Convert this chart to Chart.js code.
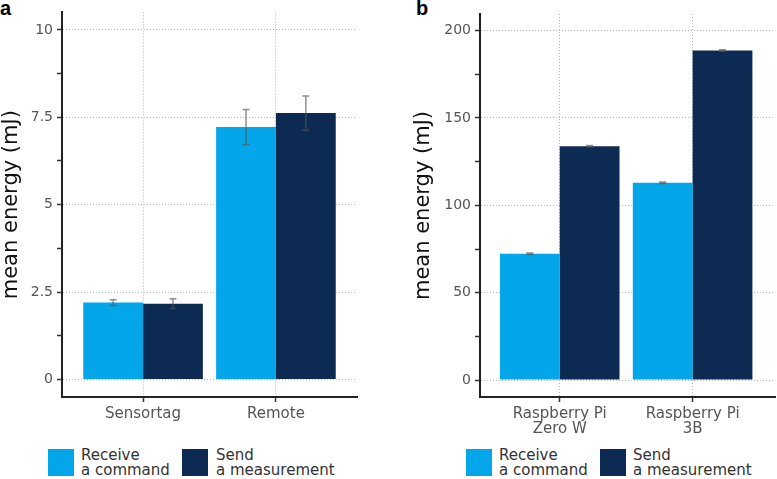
<!DOCTYPE html>
<html><head><meta charset="utf-8">
<script src="https://cdn.jsdelivr.net/npm/chart.js@4/dist/chart.umd.min.js"></script>
<style>
html,body{margin:0;padding:0;background:#fff;}
body{width:777px;height:479px;position:relative;overflow:hidden;font-family:'DejaVu Sans',sans-serif;}
canvas{position:absolute;top:0;}
.plabel{position:absolute;top:-2px;font:bold 20px/20px 'Liberation Sans',Arial,sans-serif;color:#000;}
.box{position:absolute;width:26px;height:27px;top:449px;}
.txt{position:absolute;top:448px;font-size:15px;line-height:14.5px;color:#333;white-space:nowrap;}
</style></head>
<body>
<div class="plabel" style="left:0px">a</div>
<div class="plabel" style="left:416px">b</div>
<canvas id="ca" width="370" height="445" style="left:0px"></canvas>
<canvas id="cb" width="365" height="445" style="left:412px"></canvas>

<div class="box" style="left:48px;background:#02a6e9"></div>
<div class="txt" style="left:81px">Receive<br>a command</div>
<div class="box" style="left:182px;background:#0d2a53"></div>
<div class="txt" style="left:216px">Send<br>a measurement</div>

<div class="box" style="left:466px;background:#02a6e9"></div>
<div class="txt" style="left:499px">Receive<br>a command</div>
<div class="box" style="left:600px;background:#0d2a53"></div>
<div class="txt" style="left:633px">Send<br>a measurement</div>

<script>
// ---- Panel a data ----
const categoriesA = ['Sensortag', 'Remote'];
const receiveA = [2.20, 7.22];
const sendA = [2.17, 7.62];
const receiveErrA = [0.08, 0.50];
const sendErrA = [0.14, 0.49];
const majorTicksA = [0, 2.5, 5, 7.5, 10];
const minorTicksA = [1.25, 3.75, 6.25, 8.75];
const tickLabelsA = ['0', '2.5', '5', '7.5', '10'];

// ---- Panel b data ----
const categoriesB = [['Raspberry Pi', 'Zero W'], ['Raspberry Pi', '3B']];
const receiveB = [72.3, 112.9];
const sendB = [133.8, 188.6];
const receiveErrB = [0.4, 0.4];
const sendErrB = [0.4, 0.4];
const majorTicksB = [0, 50, 100, 150, 200];
const minorTicksB = [25, 75, 125, 175];
const tickLabelsB = ['0', '50', '100', '150', '200'];

const seriesNames = ['Receive a command', 'Send a measurement'];
const colReceive = '#02a6e9';
const colSend = '#0d2a53';

const errorBars = {
  id: 'errorBars',
  afterDatasetsDraw(chart) {
    const ctx = chart.ctx, ys = chart.scales.y;
    chart.data.datasets.forEach((ds, di) => {
      const meta = chart.getDatasetMeta(di);
      meta.data.forEach((bar, i) => {
        const v = ds.data[i].y, e = ds.errors[i];
        const t = ys.getPixelForValue(v + e), b = ys.getPixelForValue(v - e);
        ctx.save();
        ctx.strokeStyle = 'rgba(85,85,85,0.65)';
        ctx.lineWidth = 1.5;
        ctx.beginPath();
        ctx.moveTo(bar.x, t); ctx.lineTo(bar.x, b);
        ctx.moveTo(bar.x - 3.5, t); ctx.lineTo(bar.x + 3.5, t);
        ctx.moveTo(bar.x - 3.5, b); ctx.lineTo(bar.x + 3.5, b);
        ctx.stroke();
        ctx.restore();
      });
    });
  }
};

function makeChart(id, cats, rec, snd, recErr, sndErr, majors, minors, labels, yMin, yMax, xMin, xMax, yWidth, pad) {
  const allTicks = majors.concat(minors).sort((a, b) => a - b);
  return new Chart(document.getElementById(id), {
    type: 'bar',
    data: {
      datasets: [
        { label: seriesNames[0], data: rec.map((v, i) => ({x: i, y: v})), errors: recErr,
          backgroundColor: colReceive, borderWidth: 0, categoryPercentage: 0.9, barPercentage: 1.0 },
        { label: seriesNames[1], data: snd.map((v, i) => ({x: i, y: v})), errors: sndErr,
          backgroundColor: colSend, borderWidth: 0, categoryPercentage: 0.9, barPercentage: 1.0 }
      ]
    },
    options: {
      responsive: false,
      animation: false,
      layout: { padding: pad },
      plugins: { legend: { display: false }, tooltip: { enabled: false } },
      scales: {
        x: {
          type: 'linear', min: xMin, max: xMax, offset: false,
          afterBuildTicks: s => { s.ticks = cats.map((_, i) => ({value: i})); },
          afterFit: s => { s.height = 48; },
          grid: { offset: false, color: '#b5b5b5', lineWidth: 1, tickColor: '#333', tickLength: 5, tickWidth: 1.5 },
          border: { color: '#222', width: 2, dash: [1, 2] },
          ticks: { autoSkip: false, maxRotation: 0, padding: 5, color: '#555',
            font: { family: 'DejaVu Sans', size: 15, lineHeight: 1.0 },
            callback: v => (cats[v] !== undefined ? cats[v] : '') }
        },
        y: {
          type: 'linear', min: yMin, max: yMax,
          afterBuildTicks: s => { s.ticks = allTicks.map(v => ({value: v})); },
          afterFit: s => { s.width = yWidth; },
          grid: { color: c => (c.tick && majors.includes(c.tick.value) ? '#b5b5b5' : 'rgba(0,0,0,0)'),
                  lineWidth: 1, tickColor: '#333', tickLength: 5, tickWidth: 1.5 },
          border: { color: '#222', width: 2, dash: [1, 2] },
          title: { display: true, text: 'mean energy (mJ)', color: '#111', padding: 0,
                   font: { family: 'DejaVu Sans', size: 21, lineHeight: 1.1 } },
          ticks: { autoSkip: false, padding: 4, color: '#555',
            font: { family: 'DejaVu Sans', size: 14 },
            callback: v => { const k = majors.indexOf(v); return k >= 0 ? labels[k] : ''; } }
        }
      }
    },
    plugins: [errorBars]
  });
}

makeChart('ca', categoriesA, receiveA, sendA, receiveErrA, sendErrA, majorTicksA, minorTicksA, tickLabelsA,
  -0.5, 10.5, -0.61, 1.61, 62, { top: 12, right: 13, left: 0, bottom: 0 });
makeChart('cb', categoriesB, receiveB, sendB, receiveErrB, sendErrB, majorTicksB, minorTicksB, tickLabelsB,
  -9.7, 209.5, -0.6, 1.62, 68, { top: 14, right: 2, left: 0, bottom: 0 });
</script>
</body></html>
